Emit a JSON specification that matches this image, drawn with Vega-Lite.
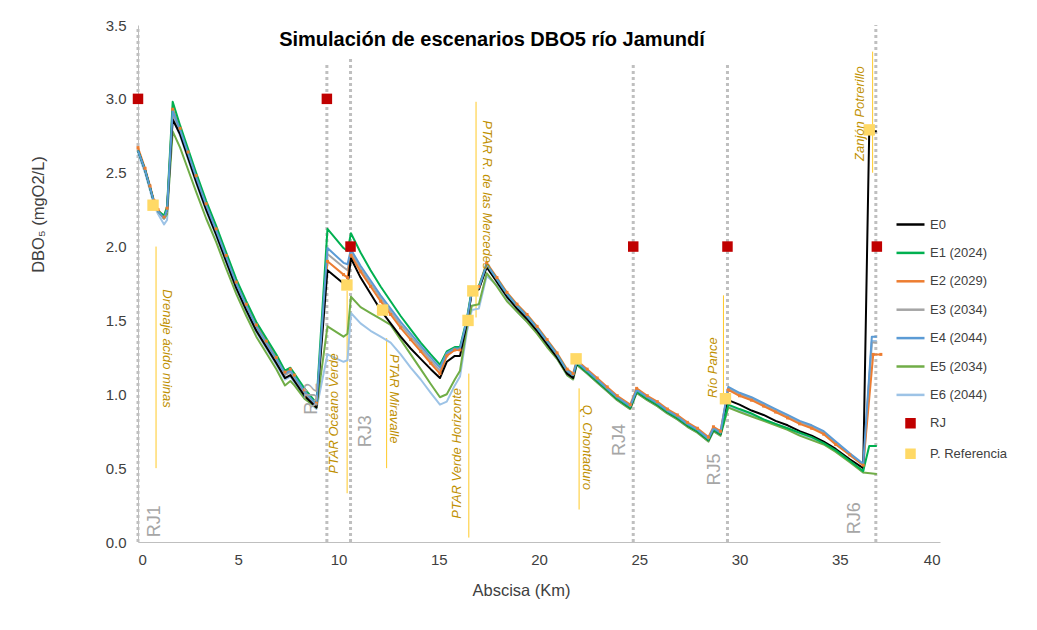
{
"$schema": "https://vega.github.io/schema/vega-lite/v6.json",
"width": 802, "height": 517,
"autosize": {"type": "none"},
"padding": {"left": 138, "top": 25, "right": 97, "bottom": 88},
"background": "white",
"title": {"text": "Simulación de escenarios DBO5  río Jamundí", "font": "Liberation Sans", "fontSize": 20, "fontWeight": "bold", "color": "#000000", "dx": -47, "dy": 36},
"datasets": {
"lines": [
{"x":0,"E0":2.65,"E1":2.65,"E2":2.67,"E3":2.65,"E4":2.65,"E5":2.65,"E6":2.63},
{"x":0.35,"E0":2.52,"E1":2.52,"E2":2.53,"E3":2.52,"E4":2.52,"E5":2.52,"E6":2.50},
{"x":0.6,"E0":2.40,"E1":2.40,"E2":2.41,"E3":2.40,"E4":2.40,"E5":2.40,"E6":2.38},
{"x":0.8,"E0":2.30,"E1":2.30,"E2":2.31,"E3":2.30,"E4":2.30,"E5":2.30,"E6":2.28},
{"x":1.0,"E0":2.24,"E1":2.24,"E2":2.25,"E3":2.24,"E4":2.24,"E5":2.24,"E6":2.22},
{"x":1.3,"E0":2.20,"E1":2.21,"E2":2.20,"E3":2.19,"E4":2.19,"E5":2.19,"E6":2.15},
{"x":1.45,"E0":2.25,"E1":2.27,"E2":2.26,"E3":2.24,"E4":2.25,"E5":2.22,"E6":2.18},
{"x":1.73,"E0":2.86,"E1":2.98,"E2":2.93,"E3":2.90,"E4":2.92,"E5":2.78,"E6":2.87},
{"x":2.1,"E0":2.76,"E1":2.82,"E2":2.80,"E3":2.78,"E4":2.79,"E5":2.67,"E6":2.75},
{"x":2.5,"E0":2.60,"E1":2.66,"E2":2.64,"E3":2.62,"E4":2.63,"E5":2.52,"E6":2.59},
{"x":2.9,"E0":2.44,"E1":2.50,"E2":2.48,"E3":2.46,"E4":2.47,"E5":2.37,"E6":2.43},
{"x":3.4,"E0":2.25,"E1":2.31,"E2":2.29,"E3":2.27,"E4":2.28,"E5":2.19,"E6":2.24},
{"x":3.9,"E0":2.08,"E1":2.14,"E2":2.12,"E3":2.10,"E4":2.11,"E5":2.03,"E6":2.07},
{"x":4.4,"E0":1.90,"E1":1.96,"E2":1.94,"E3":1.92,"E4":1.93,"E5":1.85,"E6":1.89},
{"x":4.9,"E0":1.72,"E1":1.78,"E2":1.76,"E3":1.74,"E4":1.75,"E5":1.68,"E6":1.71},
{"x":5.4,"E0":1.57,"E1":1.63,"E2":1.61,"E3":1.59,"E4":1.60,"E5":1.53,"E6":1.56},
{"x":5.9,"E0":1.43,"E1":1.49,"E2":1.47,"E3":1.45,"E4":1.46,"E5":1.39,"E6":1.42},
{"x":6.4,"E0":1.32,"E1":1.38,"E2":1.36,"E3":1.34,"E4":1.35,"E5":1.28,"E6":1.31},
{"x":6.9,"E0":1.21,"E1":1.27,"E2":1.25,"E3":1.23,"E4":1.24,"E5":1.17,"E6":1.20},
{"x":7.33,"E0":1.11,"E1":1.16,"E2":1.15,"E3":1.13,"E4":1.14,"E5":1.06,"E6":1.10},
{"x":7.6,"E0":1.13,"E1":1.18,"E2":1.17,"E3":1.15,"E4":1.16,"E5":1.09,"E6":1.12},
{"x":7.8,"E0":1.09,"E1":1.14,"E2":1.13,"E3":1.11,"E4":1.12,"E5":1.06,"E6":1.08},
{"x":8.3,"E0":0.99,"E1":1.04,"E2":1.03,"E3":1.01,"E4":1.02,"E5":0.97,"E6":0.98},
{"x":8.9,"E0":0.91,"E1":0.94,"E2":0.94,"E3":0.92,"E4":0.93,"E5":0.91,"E6":0.90},
{"x":9.45,"E0":1.84,"E1":2.12,"E2":1.90,"E3":1.95,"E4":1.99,"E5":1.46,"E6":1.27},
{"x":10.25,"E0":1.75,"E1":1.99,"E2":1.81,"E3":1.86,"E4":1.89,"E5":1.39,"E6":1.22},
{"x":10.45,"E0":1.73,"E1":1.97,"E2":1.79,"E3":1.84,"E4":1.88,"E5":1.41,"E6":1.23},
{"x":10.62,"E0":1.92,"E1":2.09,"E2":1.94,"E3":1.96,"E4":1.98,"E5":1.66,"E6":1.55},
{"x":11.1,"E0":1.79,"E1":1.96,"E2":1.83,"E3":1.85,"E4":1.87,"E5":1.59,"E6":1.48},
{"x":11.6,"E0":1.68,"E1":1.84,"E2":1.73,"E3":1.75,"E4":1.77,"E5":1.55,"E6":1.43},
{"x":12.1,"E0":1.57,"E1":1.73,"E2":1.63,"E3":1.65,"E4":1.67,"E5":1.51,"E6":1.39},
{"x":12.6,"E0":1.48,"E1":1.63,"E2":1.54,"E3":1.56,"E4":1.58,"E5":1.47,"E6":1.35},
{"x":13.1,"E0":1.39,"E1":1.53,"E2":1.45,"E3":1.47,"E4":1.49,"E5":1.37,"E6":1.27},
{"x":13.6,"E0":1.31,"E1":1.44,"E2":1.37,"E3":1.39,"E4":1.41,"E5":1.27,"E6":1.18},
{"x":14.1,"E0":1.24,"E1":1.35,"E2":1.29,"E3":1.31,"E4":1.33,"E5":1.17,"E6":1.10},
{"x":14.6,"E0":1.17,"E1":1.27,"E2":1.21,"E3":1.23,"E4":1.25,"E5":1.07,"E6":1.01},
{"x":15.06,"E0":1.11,"E1":1.20,"E2":1.14,"E3":1.16,"E4":1.18,"E5":0.98,"E6":0.93},
{"x":15.4,"E0":1.22,"E1":1.29,"E2":1.26,"E3":1.27,"E4":1.28,"E5":1.00,"E6":0.95},
{"x":15.8,"E0":1.26,"E1":1.32,"E2":1.30,"E3":1.30,"E4":1.31,"E5":1.10,"E6":1.06},
{"x":16.06,"E0":1.26,"E1":1.32,"E2":1.30,"E3":1.30,"E4":1.31,"E5":1.16,"E6":1.12},
{"x":16.4,"E0":1.48,"E1":1.51,"E2":1.50,"E3":1.49,"E4":1.50,"E5":1.45,"E6":1.42},
{"x":16.65,"E0":1.69,"E1":1.71,"E2":1.70,"E3":1.69,"E4":1.70,"E5":1.60,"E6":1.57},
{"x":17.0,"E0":1.71,"E1":1.73,"E2":1.73,"E3":1.71,"E4":1.72,"E5":1.61,"E6":1.58},
{"x":17.39,"E0":1.86,"E1":1.88,"E2":1.89,"E3":1.87,"E4":1.88,"E5":1.82,"E6":1.80},
{"x":17.9,"E0":1.76,"E1":1.78,"E2":1.79,"E3":1.77,"E4":1.78,"E5":1.73,"E6":1.74},
{"x":18.4,"E0":1.66,"E1":1.68,"E2":1.69,"E3":1.67,"E4":1.68,"E5":1.63,"E6":1.64},
{"x":18.9,"E0":1.58,"E1":1.60,"E2":1.61,"E3":1.59,"E4":1.60,"E5":1.56,"E6":1.56},
{"x":19.4,"E0":1.51,"E1":1.53,"E2":1.54,"E3":1.52,"E4":1.53,"E5":1.49,"E6":1.49},
{"x":19.9,"E0":1.43,"E1":1.45,"E2":1.46,"E3":1.44,"E4":1.45,"E5":1.41,"E6":1.42},
{"x":20.4,"E0":1.34,"E1":1.36,"E2":1.37,"E3":1.35,"E4":1.36,"E5":1.32,"E6":1.33},
{"x":20.9,"E0":1.25,"E1":1.27,"E2":1.28,"E3":1.26,"E4":1.27,"E5":1.24,"E6":1.24},
{"x":21.4,"E0":1.14,"E1":1.16,"E2":1.17,"E3":1.15,"E4":1.16,"E5":1.13,"E6":1.13},
{"x":21.7,"E0":1.11,"E1":1.13,"E2":1.14,"E3":1.12,"E4":1.13,"E5":1.10,"E6":1.10},
{"x":21.88,"E0":1.21,"E1":1.21,"E2":1.23,"E3":1.21,"E4":1.22,"E5":1.20,"E6":1.20},
{"x":22.4,"E0":1.15,"E1":1.15,"E2":1.17,"E3":1.15,"E4":1.16,"E5":1.14,"E6":1.14},
{"x":22.9,"E0":1.09,"E1":1.09,"E2":1.11,"E3":1.09,"E4":1.10,"E5":1.08,"E6":1.08},
{"x":23.4,"E0":1.03,"E1":1.03,"E2":1.05,"E3":1.03,"E4":1.04,"E5":1.02,"E6":1.02},
{"x":23.9,"E0":0.97,"E1":0.97,"E2":0.99,"E3":0.97,"E4":0.98,"E5":0.96,"E6":0.96},
{"x":24.55,"E0":0.91,"E1":0.91,"E2":0.93,"E3":0.91,"E4":0.92,"E5":0.90,"E6":0.90},
{"x":24.87,"E0":1.02,"E1":1.02,"E2":1.04,"E3":1.02,"E4":1.03,"E5":1.01,"E6":1.01},
{"x":25.4,"E0":0.97,"E1":0.97,"E2":0.99,"E3":0.97,"E4":0.98,"E5":0.96,"E6":0.96},
{"x":25.9,"E0":0.93,"E1":0.93,"E2":0.95,"E3":0.93,"E4":0.94,"E5":0.92,"E6":0.92},
{"x":26.4,"E0":0.88,"E1":0.88,"E2":0.90,"E3":0.88,"E4":0.89,"E5":0.87,"E6":0.87},
{"x":26.9,"E0":0.84,"E1":0.84,"E2":0.86,"E3":0.84,"E4":0.85,"E5":0.83,"E6":0.83},
{"x":27.4,"E0":0.79,"E1":0.79,"E2":0.81,"E3":0.79,"E4":0.80,"E5":0.78,"E6":0.78},
{"x":27.9,"E0":0.75,"E1":0.75,"E2":0.77,"E3":0.75,"E4":0.76,"E5":0.74,"E6":0.74},
{"x":28.45,"E0":0.69,"E1":0.69,"E2":0.71,"E3":0.69,"E4":0.70,"E5":0.68,"E6":0.68},
{"x":28.7,"E0":0.76,"E1":0.76,"E2":0.78,"E3":0.76,"E4":0.77,"E5":0.75,"E6":0.75},
{"x":29.05,"E0":0.73,"E1":0.73,"E2":0.75,"E3":0.73,"E4":0.74,"E5":0.72,"E6":0.72},
{"x":29.44,"E0":0.96,"E1":0.93,"E2":1.03,"E3":1.04,"E4":1.05,"E5":0.91,"E6":0.92},
{"x":30.0,"E0":0.93,"E1":0.90,"E2":0.99,"E3":1.00,"E4":1.01,"E5":0.88,"E6":0.89},
{"x":30.6,"E0":0.89,"E1":0.87,"E2":0.96,"E3":0.97,"E4":0.98,"E5":0.85,"E6":0.86},
{"x":31.2,"E0":0.86,"E1":0.83,"E2":0.92,"E3":0.93,"E4":0.94,"E5":0.82,"E6":0.83},
{"x":31.8,"E0":0.82,"E1":0.80,"E2":0.88,"E3":0.89,"E4":0.90,"E5":0.79,"E6":0.80},
{"x":32.4,"E0":0.79,"E1":0.77,"E2":0.84,"E3":0.85,"E4":0.86,"E5":0.76,"E6":0.77},
{"x":33.0,"E0":0.75,"E1":0.74,"E2":0.80,"E3":0.81,"E4":0.82,"E5":0.72,"E6":0.73},
{"x":33.6,"E0":0.72,"E1":0.71,"E2":0.77,"E3":0.78,"E4":0.79,"E5":0.69,"E6":0.70},
{"x":34.2,"E0":0.68,"E1":0.67,"E2":0.73,"E3":0.74,"E4":0.75,"E5":0.66,"E6":0.67},
{"x":34.8,"E0":0.63,"E1":0.62,"E2":0.66,"E3":0.67,"E4":0.68,"E5":0.61,"E6":0.62},
{"x":35.5,"E0":0.56,"E1":0.55,"E2":0.59,"E3":0.59,"E4":0.60,"E5":0.54,"E6":0.55},
{"x":36.17,"E0":0.50,"E1":0.48,"E2":0.52,"E3":0.52,"E4":0.53,"E5":0.47,"E6":0.47},
{"x":36.47,"E0":2.78,"E1":0.65,"E2":null,"E3":null,"E4":null,"E5":null,"E6":null},
{"x":36.6,"E0":null,"E1":null,"E2":null,"E3":1.35,"E4":1.39,"E5":null,"E6":1.36},
{"x":36.67,"E0":null,"E1":null,"E2":1.27,"E3":null,"E4":null,"E5":null,"E6":null},
{"x":36.85,"E0":2.78,"E1":0.65,"E2":null,"E3":1.35,"E4":1.39,"E5":0.46,"E6":1.36},
{"x":37.05,"E0":null,"E1":null,"E2":1.27,"E3":null,"E4":null,"E5":null,"E6":null}
],
"rj": [
{"x":0,"y":3.0,"serie":"RJ"},{"x":9.42,"y":3.0,"serie":"RJ"},{"x":10.6,"y":2.0,"serie":"RJ"},
{"x":24.7,"y":2.0,"serie":"RJ"},{"x":29.4,"y":2.0,"serie":"RJ"},{"x":36.85,"y":2.0,"serie":"RJ"}
],
"pref": [
{"x":0.75,"y":2.28,"serie":"P. Referencia"},{"x":10.42,"y":1.74,"serie":"P. Referencia"},
{"x":12.2,"y":1.57,"serie":"P. Referencia"},{"x":16.46,"y":1.50,"serie":"P. Referencia"},
{"x":16.7,"y":1.70,"serie":"P. Referencia"},{"x":21.85,"y":1.24,"serie":"P. Referencia"},
{"x":29.3,"y":0.97,"serie":"P. Referencia"},{"x":36.47,"y":2.79,"serie":"P. Referencia"}
],
"rjlines": [
{"x":0,"y":0,"y2":3.48},{"x":9.42,"y":0,"y2":3.25},{"x":10.6,"y":0,"y2":3.27},
{"x":24.7,"y":0,"y2":3.25},{"x":29.4,"y":0,"y2":3.25},{"x":36.8,"y":0,"y2":3.5}
],
"goldlines": [
{"x":0.9,"y":0.5,"y2":2.0},{"x":10.43,"y":0.33,"y2":1.7},{"x":12.4,"y":0.5,"y2":1.38},
{"x":16.5,"y":0.03,"y2":1.14},{"x":16.86,"y":1.52,"y2":2.98},{"x":22.0,"y":0.22,"y2":1.04},
{"x":29.2,"y":0.96,"y2":1.67},{"x":36.64,"y":2.5,"y2":3.32}
],
"goldtext": [
{"x":1.45,"y":1.31,"t":"Drenaje ácido minas","a":90},
{"x":9.78,"y":0.87,"t":"PTAR Océano Verde","a":270},
{"x":12.77,"y":0.97,"t":"PTAR Miravalle","a":90},
{"x":15.9,"y":0.6,"t":"PTAR Verde Horizonte","a":270},
{"x":17.4,"y":2.35,"t":"PTAR R. de las Mercedes","a":90},
{"x":22.4,"y":0.64,"t":"Q. Chontaduro","a":90},
{"x":28.7,"y":1.18,"t":"Río Pance","a":270},
{"x":36.0,"y":2.9,"t":"Zanjón Potrerillo","a":270}
],
"rjtext": [
{"x":0.85,"y":0.14,"t":"RJ1"},{"x":8.68,"y":0.97,"t":"RJ2"},{"x":11.37,"y":0.75,"t":"RJ3"},
{"x":24.04,"y":0.69,"t":"RJ4"},{"x":28.78,"y":0.49,"t":"RJ5"},{"x":35.76,"y":0.16,"t":"RJ6"}
]
},
"layer": [
{
"data": {"name": "rjlines"},
"mark": {"type": "rule", "color": "#BFBFBF", "strokeWidth": 3, "strokeDash": [3, 3]},
"encoding": {
"x": {"field": "x", "type": "quantitative"},
"y": {"field": "y", "type": "quantitative"},
"y2": {"field": "y2"}
}
},
{
"data": {"name": "goldlines"},
"mark": {"type": "rule", "color": "#FFC000", "strokeWidth": 1, "opacity": 0.85},
"encoding": {
"x": {"field": "x", "type": "quantitative"},
"y": {"field": "y", "type": "quantitative"},
"y2": {"field": "y2"}
}
},
{
"data": {"name": "lines"},
"transform": [
{"fold": ["E6", "E5", "E3", "E2", "E0", "E1", "E4"], "as": ["serie", "y"]},
{"filter": "isValid(datum.y)"}
],
"mark": {"type": "line", "strokeJoin": "round"},
"encoding": {
"x": {"field": "x", "type": "quantitative", "scale": {"domain": [0, 40]},
"axis": {"title": "Abscisa (Km)", "values": [0, 5, 10, 15, 20, 25, 30, 35, 40], "titleX": 383, "titlePadding": 15, "labelPadding": 10}},
"y": {"field": "y", "type": "quantitative", "scale": {"domain": [0, 3.5]},
"axis": {"title": "DBO₅ (mgO2/L)", "values": [0, 0.5, 1, 1.5, 2, 2.5, 3, 3.5], "format": ".1f", "labelPadding": 12, "titleX": -100, "titleY": 189, "titleAngle": 270, "titleAlign": "center", "titleBaseline": "middle"}},
"color": {"field": "serie", "type": "nominal",
"scale": {"domain": ["E0", "E1", "E2", "E3", "E4", "E5", "E6", "RJ", "P. Referencia"],
"range": ["#000000", "#00B050", "#ED7D31", "#A5A5A5", "#5B9BD5", "#70AD47", "#9DC3E6", "#C00000", "#FFD966"]},
"legend": {
"orient": "none", "legendX": 757, "legendY": 184, "title": null,
"symbolType": "stroke", "symbolSize": 784, "symbolStrokeWidth": 2.5,
"labelFont": "Liberation Sans", "labelFontSize": 13, "labelColor": "#404040", "labelOffset": 4, "rowPadding": 5.4,
"labelExpr": "datum.value === 'E1' ? 'E1 (2024)' : datum.value === 'E2' ? 'E2 (2029)' : datum.value === 'E3' ? 'E3 (2034)' : datum.value === 'E4' ? 'E4 (2044)' : datum.value === 'E5' ? 'E5 (2034)' : datum.value === 'E6' ? 'E6 (2044)' : datum.label",
"encode": {"symbols": {"update": {
"shape": {"signal": "datum.value === 'RJ' || datum.value === 'P. Referencia' ? 'square' : 'stroke'"},
"size": {"signal": "datum.value === 'RJ' || datum.value === 'P. Referencia' ? 64 : 784"},
"fill": {"signal": "datum.value === 'RJ' ? '#C00000' : datum.value === 'P. Referencia' ? '#FFD966' : 'transparent'"},
"stroke": {"signal": "datum.value === 'RJ' || datum.value === 'P. Referencia' ? 'transparent' : scale('color', datum.value)"},
"strokeWidth": {"value": 2.5}
}}}
}},
"strokeWidth": {"field": "serie", "type": "nominal",
"scale": {"domain": ["E0", "E1", "E2", "E3", "E4", "E5", "E6"], "range": [2, 2, 2, 2, 3, 2, 5]}, "legend": null}
}
},
{
"data": {"name": "lines"},
"transform": [
{"fold": ["E2"], "as": ["serie", "y"]},
{"filter": "isValid(datum.y)"}
],
"mark": {"type": "point", "shape": "square", "filled": true, "color": "#ED7D31", "opacity": 1, "size": 9},
"encoding": {
"x": {"field": "x", "type": "quantitative"},
"y": {"field": "y", "type": "quantitative"}
}
},
{
"data": {"name": "pref"},
"mark": {"type": "point", "shape": "square", "filled": true, "opacity": 1, "size": 130},
"encoding": {
"x": {"field": "x", "type": "quantitative"},
"y": {"field": "y", "type": "quantitative"},
"color": {"field": "serie", "type": "nominal"}
}
},
{
"data": {"name": "rj"},
"mark": {"type": "point", "shape": "square", "filled": true, "opacity": 1, "size": 110},
"encoding": {
"x": {"field": "x", "type": "quantitative"},
"y": {"field": "y", "type": "quantitative"},
"color": {"field": "serie", "type": "nominal"}
}
},
{
"data": {"name": "goldtext"},
"mark": {"type": "text", "font": "Liberation Sans", "fontSize": 13, "fontStyle": "italic", "color": "#BF9000", "align": "center", "baseline": "middle"},
"encoding": {
"x": {"field": "x", "type": "quantitative"},
"y": {"field": "y", "type": "quantitative"},
"text": {"field": "t"},
"angle": {"field": "a", "type": "quantitative", "scale": null}
}
},
{
"data": {"name": "rjtext"},
"mark": {"type": "text", "font": "Liberation Sans", "fontSize": 18, "color": "#A6A6A6", "align": "center", "baseline": "middle", "angle": 270},
"encoding": {
"x": {"field": "x", "type": "quantitative"},
"y": {"field": "y", "type": "quantitative"},
"text": {"field": "t"}
}
}
],
"config": {
"font": "Liberation Sans",
"view": {"stroke": null},
"axis": {"grid": false, "ticks": false, "domainColor": "#BFBFBF", "domainWidth": 1,
"labelFont": "Liberation Sans", "labelFontSize": 15, "labelColor": "#404040",
"titleFont": "Liberation Sans", "titleFontSize": 16.5, "titleFontWeight": "normal", "titleColor": "#404040"}
}
}
